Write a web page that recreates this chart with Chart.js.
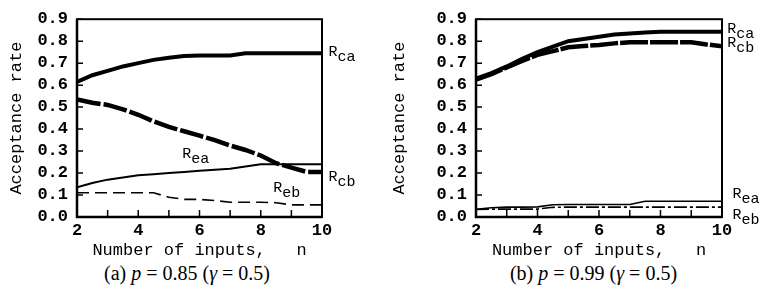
<!DOCTYPE html>
<html>
<head>
<meta charset="utf-8">
<script src="https://cdn.jsdelivr.net/npm/chart.js@4.4.1/dist/chart.umd.min.js"></script>
<style>
  body { margin: 0; background: #fff; }
  #wrap { position: relative; width: 766px; height: 293px; overflow: hidden; }
  canvas { position: absolute; top: 0; }
  #chartA { left: 0; }
  #chartB { left: 383px; }
  .cap { position: absolute; top: 262px; font-family: 'Liberation Serif', serif; font-size: 20px; text-align: center; white-space: nowrap; }
  #capA { left: 0; width: 374px; }
  #capB { left: 402px; width: 383px; }
</style>
</head>
<body>
<div id="wrap">
  <canvas id="chartA" width="383" height="262"></canvas>
  <canvas id="chartB" width="383" height="262"></canvas>
  <div class="cap" id="capA">(a) <i>p</i> = 0.85 (<i>γ</i> = 0.5)</div>
  <div class="cap" id="capB">(b) <i>p</i> = 0.99 (<i>γ</i> = 0.5)</div>
</div>
<script>
// number of inputs n (read at half steps)
const inputs = [2, 2.5, 3, 3.5, 4, 4.5, 5, 5.5, 6, 6.5, 7, 7.5, 8, 8.5, 9, 9.5, 10];

// (a) p = 0.85
const rcaA = [0.615, 0.645, 0.665, 0.685, 0.70, 0.715, 0.725, 0.733, 0.735, 0.735, 0.735, 0.745, 0.745, 0.745, 0.745, 0.745, 0.745];
const rcbA = [0.535, 0.52, 0.51, 0.49, 0.465, 0.435, 0.41, 0.39, 0.37, 0.35, 0.325, 0.305, 0.28, 0.245, 0.225, 0.205, 0.205];
const reaA = [0.135, 0.155, 0.17, 0.18, 0.19, 0.195, 0.20, 0.205, 0.21, 0.215, 0.22, 0.23, 0.24, 0.24, 0.24, 0.24, 0.24];
const rebA = [0.11, 0.11, 0.11, 0.11, 0.11, 0.11, 0.09, 0.08, 0.08, 0.075, 0.067, 0.067, 0.067, 0.065, 0.055, 0.055, 0.055];

// (b) p = 0.99
const rcaB = [0.63, 0.655, 0.685, 0.72, 0.75, 0.775, 0.80, 0.81, 0.82, 0.83, 0.835, 0.84, 0.843, 0.843, 0.843, 0.843, 0.843];
const rcbB = [0.625, 0.65, 0.68, 0.71, 0.738, 0.755, 0.772, 0.778, 0.783, 0.79, 0.795, 0.795, 0.795, 0.795, 0.795, 0.785, 0.777];
const reaB = [0.035, 0.042, 0.045, 0.045, 0.046, 0.056, 0.057, 0.057, 0.057, 0.057, 0.057, 0.072, 0.072, 0.072, 0.072, 0.072, 0.072];
const rebB = [0.034, 0.036, 0.036, 0.036, 0.036, 0.044, 0.045, 0.045, 0.045, 0.045, 0.045, 0.045, 0.045, 0.045, 0.045, 0.045, 0.045];

const xTickLabels = [2, 4, 6, 8, 10];
const yTitle = 'Acceptance rate';
const xTitle = 'Number of inputs,   n';

const mono = 'Liberation Mono';

function pts(vals) {
  return inputs.map((n, i) => ({ x: n, y: vals[i] }));
}

// box frame, inward tick marks and the R labels
const frameTicks = {
  id: 'frameTicks',
  afterDraw(chart, args, opts) {
    const { ctx, chartArea: a, scales: { x, y } } = chart;
    ctx.save();
    ctx.strokeStyle = '#000';
    ctx.lineWidth = 2;
    ctx.strokeRect(a.left, a.top, a.right - a.left, a.bottom - a.top);
    ctx.lineWidth = 1.5;
    ctx.beginPath();
    x.ticks.forEach(t => {
      const px = x.getPixelForValue(t.value);
      ctx.moveTo(px, a.bottom);
      ctx.lineTo(px, a.bottom - 7);
    });
    y.ticks.forEach(t => {
      const py = y.getPixelForValue(t.value);
      ctx.moveTo(a.left, py);
      ctx.lineTo(a.left + 6, py);
    });
    ctx.stroke();
    ctx.lineWidth = 2.5;
    ctx.beginPath();
    ctx.moveTo(a.left, a.top);
    ctx.lineTo(a.left, a.bottom);
    ctx.lineTo(a.right, a.bottom);
    ctx.stroke();

    ctx.fillStyle = '#000';
    ctx.textBaseline = 'middle';
    ctx.textAlign = 'left';
    (opts.items || []).forEach(it => {
      const px = x.getPixelForValue(it.n);
      const py = y.getPixelForValue(it.v);
      ctx.font = '15px "' + mono + '"';
      ctx.fillText('R', px, py);
      const w = ctx.measureText('R').width;
      ctx.fillText(it.sub, px + w, py + 5);
    });
    ctx.restore();
  }
};

function makeChart(id, sets, pad, labels) {
  const [rca, rcb, rea, reb] = sets;
  const isA = rca === rcaA;
  return new Chart(document.getElementById(id), {
    type: 'line',
    data: {
      datasets: [
        { data: pts(rca), borderWidth: 4, borderDash: [] },
        { data: pts(rcb), borderWidth: 4.5, borderDash: isA ? [24, 3] : [28, 2] },
        { data: pts(rea), borderWidth: isA ? 2 : 1.6, borderDash: [] },
        { data: pts(reb), borderWidth: 1.6, borderDash: isA ? [12, 6] : [13, 3, 3, 3] }
      ].map(d => Object.assign(d, { borderColor: '#000', pointRadius: 0, tension: 0, fill: false, borderCapStyle: 'butt' }))
    },
    options: {
      responsive: false,
      animation: false,
      layout: { padding: pad },
      plugins: {
        legend: { display: false },
        tooltip: { enabled: false },
        frameTicks: { items: labels }
      },
      scales: {
        x: {
          type: 'linear',
          min: 2,
          max: 10,
          grid: { display: false, drawTicks: false },
          border: { display: false },
          ticks: {
            stepSize: 1,
            autoSkip: false,
            maxRotation: 0,
            padding: 4,
            color: '#000',
            font: { family: mono, size: 17, weight: 'bold' },
            callback: v => xTickLabels.includes(v) ? String(v) : ''
          },
          title: {
            display: true,
            text: xTitle,
            color: '#000',
            font: { family: mono, size: 17 },
            padding: { top: 0, bottom: 1 }
          },
          afterFit: s => { s.height = 45; }
        },
        y: {
          min: 0,
          max: 0.9,
          grid: { display: false, drawTicks: false },
          border: { display: false },
          ticks: {
            stepSize: 0.1,
            autoSkip: false,
            padding: 9,
            color: '#000',
            font: { family: mono, size: 17, weight: 'bold' },
            callback: v => v.toFixed(1)
          },
          title: {
            display: true,
            text: yTitle,
            color: '#000',
            font: { family: mono, size: 17 },
            padding: { top: 6, bottom: 0 }
          },
          afterFit: s => { s.width = pad.yWidth; }
        }
      }
    },
    plugins: [frameTicks]
  });
}

makeChart('chartA', [rcaA, rcbA, reaA, rebA],
  { left: 0, top: 15, right: 61, bottom: 0, yWidth: 77 },
  [
    { sub: 'ca', n: 10.21, v: 0.749 },
    { sub: 'cb', n: 10.21, v: 0.18 },
    { sub: 'ea', n: 5.44, v: 0.287 },
    { sub: 'eb', n: 8.41, v: 0.13 }
  ]);

makeChart('chartB', [rcaB, rcbB, reaB, rebB],
  { left: 0, top: 13, right: 44, bottom: 0, yWidth: 93 },
  [
    { sub: 'ca', n: 10.17, v: 0.856 },
    { sub: 'cb', n: 10.17, v: 0.793 },
    { sub: 'ea', n: 10.34, v: 0.105 },
    { sub: 'eb', n: 10.34, v: 0.011 }
  ]);
</script>
</body>
</html>
